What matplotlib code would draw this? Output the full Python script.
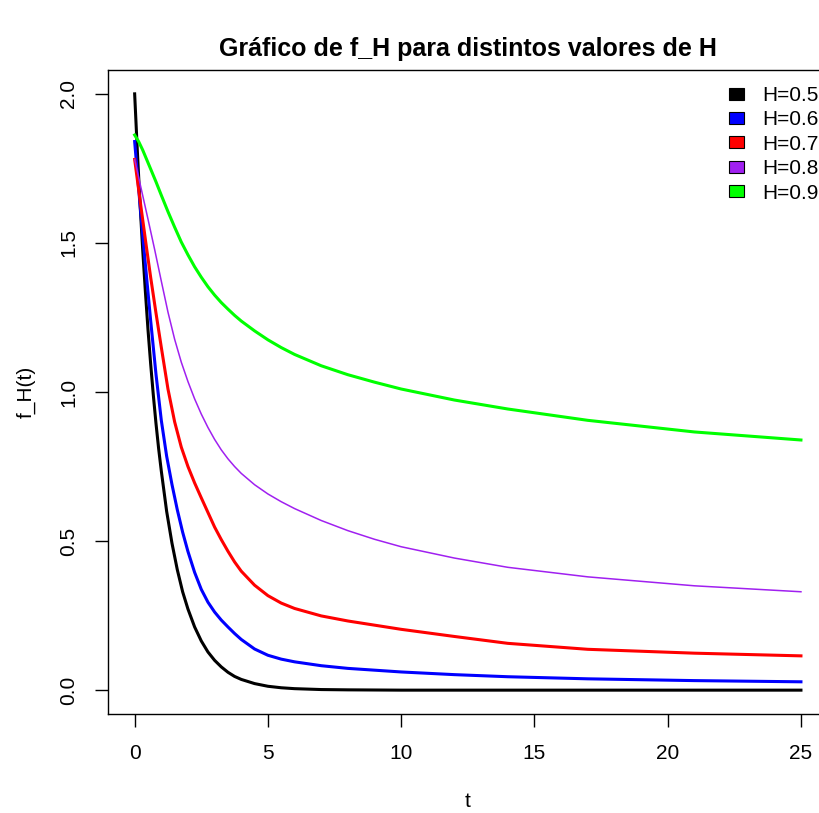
import matplotlib
matplotlib.use("Agg")
import matplotlib.pyplot as plt
from matplotlib.patches import Patch

# values
labels = ["H=0.5", "H=0.6", "H=0.7", "H=0.8", "H=0.9"]
colors = ["#000000", "#0000FF", "#FF0000", "#A020F0", "#00FF00"]

t_h05 = [0, 0.1, 0.2, 0.3, 0.4, 0.5, 0.6, 0.7, 0.8, 0.9, 1.0, 1.2, 1.4, 1.6, 1.8, 2.0,
         2.25, 2.5, 2.75, 3.0, 3.25, 3.5, 3.75, 4.0, 4.5, 5.0, 5.5, 6, 7, 8, 10, 15, 20, 25]
f_h05 = [2.00, 1.81, 1.635, 1.48, 1.34, 1.21, 1.095, 0.99, 0.895, 0.81, 0.735, 0.60, 0.493,
         0.404, 0.33, 0.272, 0.212, 0.165, 0.128, 0.10, 0.078, 0.06, 0.046, 0.036, 0.022,
         0.013, 0.008, 0.005, 0.002, 0.001, 0, 0, 0, 0]

t_h06 = [0, 0.2, 0.4, 0.6, 0.8, 1.0, 1.2, 1.4, 1.6, 1.8, 2.0, 2.25, 2.5, 2.75, 3.0, 3.25,
         3.5, 3.75, 4.0, 4.5, 5.0, 5.5, 6.0, 7.0, 8.0, 10, 12, 14, 17, 21, 25]
f_h06 = [1.84, 1.63, 1.43, 1.24, 1.06, 0.905, 0.785, 0.69, 0.605, 0.53, 0.465, 0.395, 0.338,
         0.295, 0.262, 0.235, 0.212, 0.19, 0.17, 0.138, 0.117, 0.104, 0.095, 0.082, 0.073,
         0.061, 0.052, 0.045, 0.038, 0.032, 0.028]

t_h07 = [0, 0.2, 0.42, 0.6, 0.8, 1.0, 1.25, 1.5, 1.75, 2.0, 2.25, 2.5, 2.75, 3.0, 3.25,
         3.5, 3.75, 4.0, 4.5, 5.0, 5.5, 6.0, 7.0, 8.0, 10, 12, 14, 17, 21, 25]
f_h07 = [1.78, 1.645, 1.50, 1.385, 1.265, 1.15, 1.01, 0.90, 0.815, 0.75, 0.695, 0.645, 0.596,
         0.547, 0.505, 0.466, 0.43, 0.399, 0.352, 0.317, 0.292, 0.274, 0.249, 0.232, 0.204,
         0.18, 0.157, 0.137, 0.124, 0.115]

t_h08 = [0, 0.25, 0.5, 0.75, 1.0, 1.25, 1.5, 1.75, 2.0, 2.25, 2.5, 2.75, 3.0, 3.25, 3.5,
         3.75, 4.0, 4.5, 5.0, 5.5, 6.0, 7.0, 8.0, 9.0, 10, 12, 14, 17, 21, 25]
f_h08 = [1.78, 1.68, 1.58, 1.478, 1.372, 1.268, 1.177, 1.10, 1.035, 0.977, 0.926, 0.881,
         0.841, 0.806, 0.776, 0.75, 0.727, 0.689, 0.658, 0.632, 0.609, 0.569, 0.535, 0.506,
         0.481, 0.443, 0.412, 0.38, 0.35, 0.330]

t_h09 = [0, 0.15, 0.3, 0.45, 0.6, 0.8, 1.0, 1.25, 1.5, 1.75, 2.0, 2.25, 2.5, 2.75, 3.0,
         3.25, 3.5, 3.75, 4.0, 4.5, 5.0, 5.5, 6.0, 7.0, 8.0, 9.0, 10, 12, 14, 17, 21, 25]
f_h09 = [1.862, 1.84, 1.812, 1.78, 1.748, 1.705, 1.66, 1.605, 1.553, 1.503, 1.46, 1.42,
         1.385, 1.353, 1.325, 1.30, 1.278, 1.257, 1.238, 1.205, 1.175, 1.149, 1.126, 1.088,
         1.058, 1.033, 1.010, 0.973, 0.943, 0.905, 0.866, 0.839]

series = [(t_h05, f_h05), (t_h06, f_h06), (t_h07, f_h07), (t_h08, f_h08), (t_h09, f_h09)]
widths = [2.2, 2.2, 2.2, 1.1, 2.2]

xticks = [0, 5, 10, 15, 20, 25]
yticks = [0.0, 0.5, 1.0, 1.5, 2.0]

plt.rcParams["font.family"] = ["Liberation Sans", "DejaVu Sans"]

fig = plt.figure(figsize=(8.2, 8.13), dpi=100)
# plot region runs past the right edge, as in the reference
ax = fig.add_axes([108 / 820, 99 / 813, 719.6 / 820, 644 / 813])

for (ts, fs), c, lw in zip(series, colors, widths):
    ax.plot(ts, fs, color=c, lw=lw, solid_joinstyle="round")

ax.set_xlim(-1, 26)
ax.set_ylim(-0.08, 2.08)
ax.set_xticks(xticks)
ax.set_xticklabels([str(v) for v in xticks])
ax.set_yticks(yticks)
ax.set_yticklabels(["%.1f" % v for v in yticks])
for s in ax.spines.values():
    s.set_linewidth(1.0)
ax.tick_params(length=9.5, width=1.0, labelsize=15, pad=12)
plt.setp(ax.get_yticklabels(), rotation=90, va="center")

ax.set_xlabel("t", fontsize=15, labelpad=21)
ax.set_ylabel("f_H(t)", fontsize=15, labelpad=17)
ax.set_title("Gráfico de f_H para distintos valores de H",
             fontsize=18, fontweight="bold", pad=10)

handles = [Patch(facecolor=c, edgecolor="black", lw=0.8) for c in colors]
ax.legend(handles, labels, loc="upper left", bbox_to_anchor=(729 / 820, 1 - 86 / 813),
          bbox_transform=fig.transFigure, frameon=False, fontsize=15,
          handlelength=0.72, handleheight=0.5, handletextpad=0.9,
          labelspacing=0.26, borderpad=0, borderaxespad=0)

fig.savefig("out.png", dpi=100)
